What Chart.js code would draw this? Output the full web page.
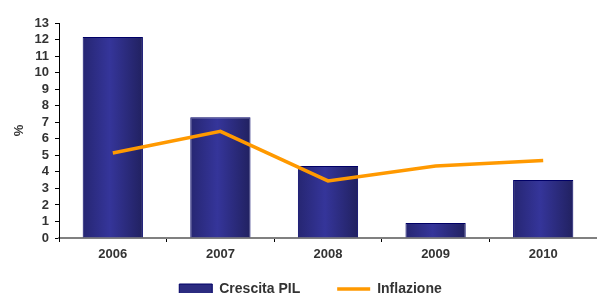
<!DOCTYPE html>
<html>
<head>
<meta charset="utf-8">
<script src="https://cdn.jsdelivr.net/npm/chart.js@4/dist/chart.umd.min.js"></script>
<style>
  html, body { margin: 0; padding: 0; background: #fff; }
  #wrap { width: 597px; height: 293px; }
</style>
</head>
<body>
<div id="wrap"><canvas id="chart"></canvas></div>
<script>
// dati
const years = ["2006", "2007", "2008", "2009", "2010"];
const crescitaPil = [12.15, 7.3, 4.35, 0.9, 3.5];
const inflazione = [5.14, 6.45, 3.45, 4.35, 4.68];
const yTicks = [0, 1, 2, 3, 4, 5, 6, 7, 8, 9, 10, 11, 12, 13];

const BAR_PCT = 0.56;
const LEGEND_GAP = 37;
const textColor = "#333333";
const font = { family: "'Liberation Sans', Arial, sans-serif", size: 13, weight: "bold" };
const legendFont = { family: "'Liberation Sans', Arial, sans-serif", size: 14, weight: "bold" };

// gradiente orizzontale per ogni barra (scuro ai bordi, chiaro al centro)
function barGradient(context) {
  const chart = context.chart;
  const x = chart.scales.x;
  if (context.type !== "data" || !x || !x.width) return "#2b2b80";
  const center = x.getPixelForValue(context.dataIndex);
  const w = (x.width / years.length) * BAR_PCT;
  if (!isFinite(center) || !isFinite(w) || w <= 0) return "#2b2b80";
  const g = chart.ctx.createLinearGradient(center - w / 2, 0, center + w / 2, 0);
  g.addColorStop(0, "#262672");
  g.addColorStop(0.45, "#35359a");
  g.addColorStop(1, "#212160");
  return g;
}

// legenda: un po' piu' a destra e subito sotto l'asse x
const legendShift = {
  id: "legendShift",
  afterLayout: function (chart) {
    const lg = chart.legend;
    if (!lg) return;
    const dy = chart.scales.x.bottom + 16 - (lg.top + LEGEND_GAP);
    lg.top += dy;
    lg.bottom += dy;
    lg.left += 24;
  },
};

const ctx = document.getElementById("chart").getContext("2d");
const chart = new Chart(ctx, {
  data: {
    labels: years,
    datasets: [
      {
        type: "line",
        label: "Inflazione",
        data: inflazione,
        borderColor: "#ff9900",
        backgroundColor: "#ff9900",
        borderWidth: 3.5,
        pointRadius: 0,
        pointHoverRadius: 0,
        tension: 0,
        pointStyle: "line",
        order: 0,
      },
      {
        type: "bar",
        label: "Crescita PIL",
        data: crescitaPil,
        backgroundColor: barGradient,
        borderColor: "#000066",
        borderWidth: 1,
        barPercentage: BAR_PCT,
        categoryPercentage: 1,
        pointStyle: "rect",
        order: 1,
      },
    ],
  },
  plugins: [legendShift],
  options: {
    responsive: true,
    maintainAspectRatio: false,
    animation: false,
    layout: { padding: { top: 23, right: 0, bottom: -34, left: 0 } },
    plugins: {
      tooltip: { enabled: false },
      legend: {
        position: "bottom",
        reverse: true,
        labels: {
          usePointStyle: true,
          pointStyleWidth: 33,
          boxHeight: 10,
          padding: LEGEND_GAP,
          color: textColor,
          font: legendFont,
          generateLabels: function (c) {
            const items = Chart.defaults.plugins.legend.labels.generateLabels(c);
            items.forEach(function (it) {
              if (it.text === "Crescita PIL") {
                it.fillStyle = "#2b2b80";
                it.strokeStyle = "#000066";
                it.lineWidth = 1;
              }
            });
            return items;
          },
        },
      },
    },
    scales: {
      x: {
        offset: true,
        grid: {
          offset: true,
          drawOnChartArea: false,
          drawTicks: true,
          tickLength: 4,
          color: "#000000",
        },
        border: { color: "#808080", width: 2 },
        ticks: {
          color: textColor,
          font: font,
          padding: 5,
          autoSkip: false,
          maxRotation: 0,
          minRotation: 0,
        },
        afterFit: function (s) { s.height = 28; },
      },
      y: {
        min: 0,
        max: 13,
        afterBuildTicks: function (s) {
          s.ticks = yTicks.map(function (v) { return { value: v }; });
        },
        grid: {
          drawOnChartArea: false,
          drawTicks: true,
          tickLength: 4,
          color: "#000000",
        },
        border: { color: "#000000", width: 1 },
        ticks: { color: textColor, font: font, padding: 6, autoSkip: false },
        title: {
          display: true,
          text: "%",
          color: textColor,
          font: font,
          padding: { top: 12, bottom: 0 },
        },
        afterFit: function (s) { s.width = 59; },
      },
    },
  },
});
</script>
</body>
</html>
